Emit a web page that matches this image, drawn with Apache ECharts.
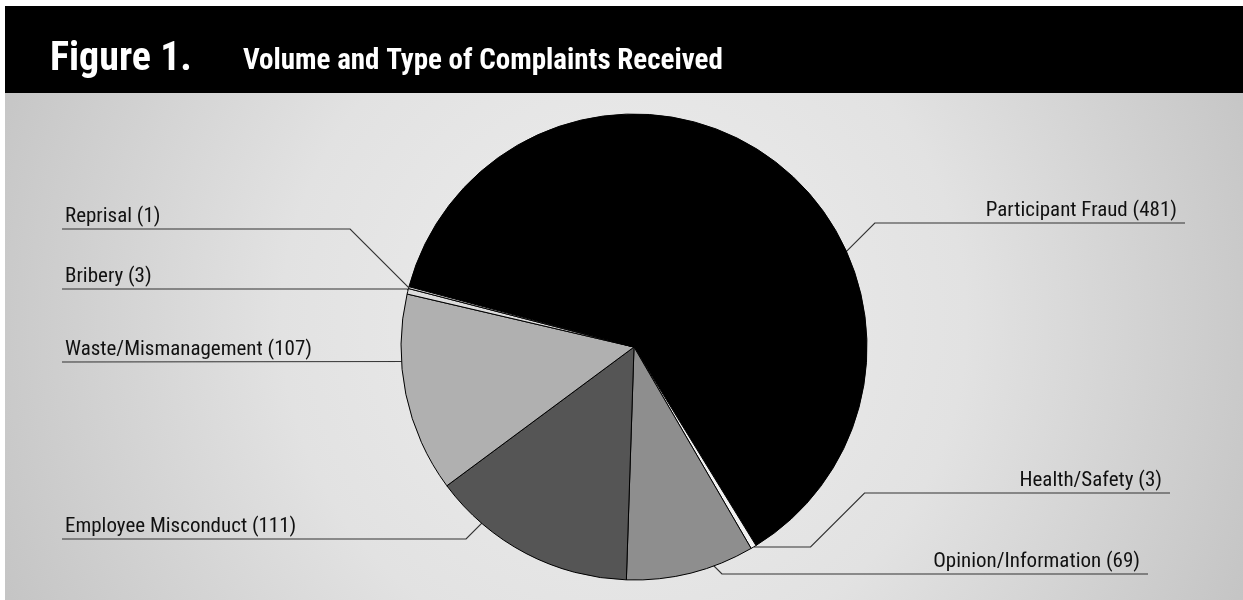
<!DOCTYPE html>
<html><head><meta charset="utf-8">
<script src="https://cdn.jsdelivr.net/npm/echarts@6/dist/echarts.min.js"></script>
<style>html,body{margin:0;padding:0;background:#fff}#chart{width:1243px;height:600px}</style>
</head><body><div id="chart"></div>
<script>
const categories = ['Participant Fraud','Health/Safety','Opinion/Information','Employee Misconduct','Waste/Mismanagement','Bribery','Reprisal'];
const values = [481, 3, 69, 111, 107, 3, 1];
const sliceColors = ['#000000','#f2f2f2','#8e8e8e','#555555','#b0b0b0','#dcdcdc','#e6e6e6'];
const titleText = 'Figure 1.';
const subtitleText = 'Volume and Type of Complaints Received';

// label placement (layout only): side, y of underline, outer end x, anchor fraction along slice, anchor radius fraction, horizontal run
const labelLayouts = [
  {side:'right', y:223, outer:1185, t:0.63, rf:1.0, run:0},
  {side:'right', y:493, outer:1170, t:0.5, rf:1.0, run:57},
  {side:'right', y:574, outer:1148, t:0.41, rf:0.9, run:0},
  {side:'left',  y:539, outer:62,   t:0.75, rf:0.94, run:0},
  {side:'left',  y:362, outer:62,   t:0.66, rf:0.95, run:0},
  {side:'left',  y:289, outer:62,   t:0.5, rf:0.99, run:0},
  {side:'left',  y:229, outer:62,   t:0.5, rf:1.0, run:0}
];

const FONT = "'Liberation Sans Narrow', 'Roboto Condensed', 'DejaVu Sans Condensed', sans-serif";
const chart = echarts.init(document.getElementById('chart'), null, {renderer:'canvas'});

const pieData = categories.map((c, i) => ({
  name: c, value: values[i], itemStyle: {color: sliceColors[i]}
}));

function layoutLabel(params) {
  const i = params.dataIndex;
  const L = labelLayouts[i];
  const data = chart.getModel().getSeriesByIndex(0).getData();
  const lay = data.getItemLayout(i);
  let ax, ay;
  if (lay && lay.r != null) {
    const a = lay.startAngle + (lay.endAngle - lay.startAngle) * L.t;
    ax = lay.cx + lay.r * L.rf * Math.cos(a);
    ay = lay.cy + lay.r * L.rf * Math.sin(a);
  } else {
    ax = params.labelLinePoints[0][0]; ay = params.labelLinePoints[0][1];
  }
  const dir = L.side === 'right' ? 1 : -1;
  const pts = [[ax, ay]];
  let px = ax;
  if (L.run) { px = ax + dir * L.run; pts.push([px, ay]); }
  const dy = Math.abs(L.y - ay);
  if (dy > 0.5) { px = px + dir * dy; pts.push([px, L.y]); }
  pts.push([L.outer, L.y]);
  return {
    x: L.side === 'right' ? L.outer - 8 : L.outer + 3,
    y: L.y - 2,
    align: L.side === 'right' ? 'right' : 'left',
    verticalAlign: 'bottom',
    labelLinePoints: pts
  };
}

chart.setOption({
  animation: false,
  graphic: [
    {type:'rect', z:0, shape:{x:5, y:6, width:1238, height:87}, style:{fill:'#000'}},
    {type:'rect', z:0, shape:{x:5, y:93, width:1238, height:507}, style:{fill:{
      type:'radial', x:0.5, y:0.45, r:1.35,
      colorStops:[{offset:0, color:'#eeeeee'},{offset:0.5, color:'#e2e2e2'},{offset:1, color:'#c4c4c4'}]
    }}}
  ],
  title: [
    {text: titleText, left: 50, top: 40, padding: 0,
     textStyle:{color:'#fff', fontSize:40, fontWeight:'bold', fontFamily: FONT}},
    {text: subtitleText, left: 243, top: 47, padding: 0,
     textStyle:{color:'#fff', fontSize:29, fontWeight:'bold', fontFamily: FONT}}
  ],
  series: [{
    type: 'pie',
    center: [634, 347],
    radius: 233,
    startAngle: 165,
    clockwise: true,
    avoidLabelOverlap: false,
    data: pieData,
    itemStyle: {borderColor:'#000', borderWidth:1},
    label: {show:true, position:'outside', formatter: p => p.name + ' (' + p.value + ')',
            color:'#111', fontSize:21, fontFamily: FONT},
    labelLine: {show:true, length:10, length2:10, lineStyle:{color:'#333', width:1.2}},
    labelLayout: layoutLabel,
    emphasis: {disabled:true}
  }]
});
</script></body></html>
